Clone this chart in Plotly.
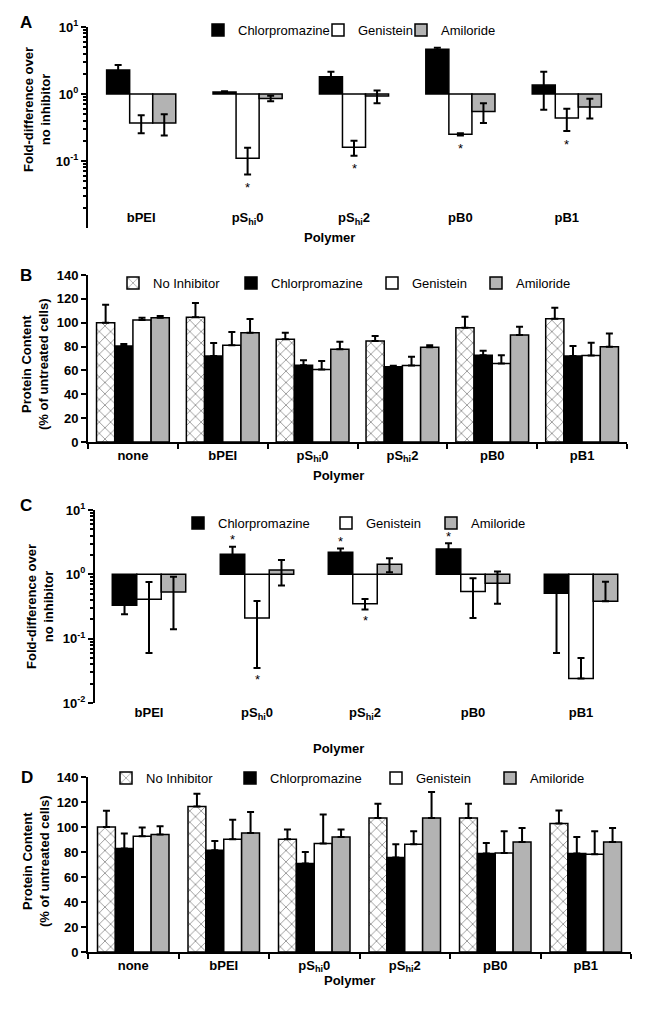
import math
import plotly.graph_objects as go

W, H = 654, 1010
FONT = "Liberation Sans, Arial, Helvetica, sans-serif"

# ---------------- data ----------------
log_cats = ["bPEI", "pS<sub>hi</sub>0", "pS<sub>hi</sub>2", "pB0", "pB1"]
lin_cats = ["none", "bPEI", "pS<sub>hi</sub>0", "pS<sub>hi</sub>2", "pB0", "pB1"]

a_tickvals = [0.1, 1, 10]
a_ticktext = ["10<sup>-1</sup>", "10<sup>0</sup>", "10<sup>1</sup>"]
c_tickvals = [0.01, 0.1, 1, 10]
c_ticktext = ["10<sup>-2</sup>", "10<sup>-1</sup>", "10<sup>0</sup>", "10<sup>1</sup>"]
log_minor_vals = [k * 10.0 ** e for e in (-2, -1, 0) for k in range(2, 10)]
lin_tickvals = [0, 20, 40, 60, 80, 100, 120, 140]

# Panel A (fold-difference, log)
a_chl = [2.28, 1.07, 1.81, 4.64, 1.36]
a_chl_err = [0.43, 0.03, 0.34, 0.25, 0.78]
a_gen = [0.37, 0.11, 0.16, 0.25, 0.44]
a_gen_err = [0.11, 0.047, 0.04, 0.01, 0.16]
a_ami = [0.37, 0.86, 0.93, 0.55, 0.64]
a_ami_err = [0.13, 0.08, 0.20, 0.18, 0.21]
a_sig_gen = [False, True, True, True, True]

# Panel B (protein content, %)
b_noi = [100.0, 104.5, 86.2, 84.6, 95.8, 103.3]
b_noi_err = [15.0, 12.0, 5.3, 4.2, 9.2, 9.2]
b_chl = [80.4, 72.0, 64.4, 63.0, 72.8, 72.0]
b_chl_err = [1.7, 11.0, 4.2, 1.0, 3.6, 8.4]
b_gen = [102.2, 81.2, 60.8, 64.1, 65.8, 72.5]
b_gen_err = [2.0, 11.0, 7.0, 7.3, 7.0, 10.7]
b_ami = [104.2, 91.6, 77.8, 79.5, 89.6, 79.8]
b_ami_err = [1.5, 11.5, 6.2, 1.7, 7.0, 11.2]

# Panel C (fold-difference, log)
c_chl = [0.33, 2.05, 2.20, 2.48, 0.51]
c_chl_err = [0.09, 0.64, 0.33, 0.55, 0.45]
c_gen = [0.41, 0.21, 0.35, 0.54, 0.024]
c_gen_err = [0.35, 0.175, 0.065, 0.33, 0.026]
c_ami = [0.53, 1.17, 1.43, 0.73, 0.38]
c_ami_err = [0.39, 0.50, 0.35, 0.38, 0.39]
c_sig_chl = [False, True, True, True, False]
c_sig_gen = [False, True, True, False, False]

# Panel D (protein content, %)
d_noi = [100.0, 116.5, 90.1, 107.2, 107.2, 102.7]
d_noi_err = [13.0, 10.1, 8.0, 11.5, 11.5, 10.6]
d_chl = [82.7, 81.3, 70.7, 75.5, 78.7, 78.7]
d_chl_err = [12.0, 7.5, 9.3, 10.7, 8.5, 13.3]
d_gen = [92.5, 90.1, 86.7, 86.1, 79.2, 78.1]
d_gen_err = [7.0, 15.7, 23.4, 10.4, 17.3, 18.4]
d_ami = [93.9, 95.2, 92.0, 107.2, 88.0, 88.0]
d_ami_err = [6.7, 16.8, 6.1, 20.8, 11.2, 11.2]

# ---------------- styling ----------------
STYLE = {
    "No Inhibitor": dict(color="white",
                         pattern=dict(shape="x", fgcolor="black", bgcolor="white",
                                      size=8, solidity=0.18)),
    "Chlorpromazine": dict(color="black"),
    "Genistein": dict(color="white"),
    "Amiloride": dict(color="#b3b3b3"),
}

fig = go.Figure()
legends = {}
legend_counter = [0]


def new_legend(x_px, y_px):
    legend_counter[0] += 1
    key = "legend" if legend_counter[0] == 1 else f"legend{legend_counter[0]}"
    legends[key] = dict(
        x=x_px / W, y=1 - y_px / H, xanchor="left", yanchor="middle",
        bgcolor="rgba(0,0,0,0)", borderwidth=0,
        font=dict(family=FONT, size=13, color="black"),
        orientation="h", itemwidth=30,
    )
    return key


def add_panel(xa, ya, cats, series, gap, log, legend_x, legend_y):
    n = len(series)
    span = 1 - gap
    w = span / n
    offsets = {}
    for k, (name, vals, errs) in enumerate(series):
        off = -span / 2 + k * w
        offsets[name] = off
        style = STYLE[name]
        marker = dict(color=style["color"], line=dict(color="black", width=1.5))
        if "pattern" in style:
            marker["pattern"] = style["pattern"]
        if log:
            yv = [v - 1 for v in vals]
            base = 1
            minus = [e if e < v else 0 for v, e in zip(vals, errs)]
        else:
            yv = list(vals)
            base = None
            minus = [0] * len(vals)
        lg = new_legend(legend_x[name], legend_y)
        fig.add_trace(go.Bar(
            x=cats, y=yv, base=base, name=name, marker=marker,
            width=w, offset=off, xaxis=xa, yaxis=ya, legend=lg,
            error_y=dict(type="data", symmetric=False, array=errs, arrayminus=minus,
                         color="black", thickness=2, width=3.5),
            hoverinfo="skip",
        ))
    return offsets, w


# domains (pixels of the 654x1010 page)
XA = [88 / W, 620 / W]; YA = [1 - 228 / H, 1 - 27 / H]
XB = [88 / W, 627 / W]; YB = [1 - 442 / H, 1 - 275 / H]
XC = [95 / W, 635 / W]; YC = [1 - 703 / H, 1 - 510 / H]
XD = [88 / W, 631 / W]; YD = [1 - 952 / H, 1 - 777 / H]

offA, wA = add_panel("x", "y", log_cats,
                     [("Chlorpromazine", a_chl, a_chl_err),
                      ("Genistein", a_gen, a_gen_err),
                      ("Amiloride", a_ami, a_ami_err)],
                     0.35, True,
                     {"Chlorpromazine": 198, "Genistein": 318, "Amiloride": 401}, 30)
add_panel("x2", "y2", lin_cats,
          [("No Inhibitor", b_noi, b_noi_err),
           ("Chlorpromazine", b_chl, b_chl_err),
           ("Genistein", b_gen, b_gen_err),
           ("Amiloride", b_ami, b_ami_err)],
          0.19, False,
          {"No Inhibitor": 113, "Chlorpromazine": 231, "Genistein": 372, "Amiloride": 476}, 283)
offC, wC = add_panel("x3", "y3", log_cats,
                     [("Chlorpromazine", c_chl, c_chl_err),
                      ("Genistein", c_gen, c_gen_err),
                      ("Amiloride", c_ami, c_ami_err)],
                     0.32, True,
                     {"Chlorpromazine": 178, "Genistein": 326, "Amiloride": 431}, 523)
add_panel("x4", "y4", lin_cats,
          [("No Inhibitor", d_noi, d_noi_err),
           ("Chlorpromazine", d_chl, d_chl_err),
           ("Genistein", d_gen, d_gen_err),
           ("Amiloride", d_ami, d_ami_err)],
          0.21, False,
          {"No Inhibitor": 106, "Chlorpromazine": 230, "Genistein": 376, "Amiloride": 490}, 778)

tickfont = dict(family=FONT, size=13, color="black", weight="bold")


def log_yaxis(dom, anchor, tv, tt):
    return dict(domain=dom, anchor=anchor, type="log", range=[-2, 1],
                tickmode="array", tickvals=tv, ticktext=tt,
                showline=True, linewidth=2, linecolor="black",
                ticks="outside", ticklen=5, tickwidth=2, tickcolor="black",
                minor=dict(ticks="outside", ticklen=3, tickwidth=1.5, tickcolor="black",
                           tickmode="array", tickvals=log_minor_vals, showgrid=False),
                showgrid=False, zeroline=False, tickfont=tickfont)


def lin_yaxis(dom, anchor):
    return dict(domain=dom, anchor=anchor, range=[0, 140], tickmode="array",
                tickvals=lin_tickvals, showline=True, linewidth=2, linecolor="black",
                ticks="outside", ticklen=5, tickwidth=2, tickcolor="black",
                showgrid=False, zeroline=False, tickfont=tickfont)


def cat_xaxis(dom, anchor, cats, boxed, **kw):
    d = dict(domain=dom, anchor=anchor, type="category", categoryarray=cats,
             range=[-0.5, len(cats) - 0.5], showgrid=False, zeroline=False,
             tickfont=tickfont)
    if boxed:
        d.update(showline=True, linewidth=2, linecolor="black", ticks="outside",
                 tickson="boundaries", ticklen=5, tickwidth=2, tickcolor="black")
    else:
        d.update(showline=False, ticks="")
    d.update(kw)
    return d


def baseline_axis(over, dom_y, n):
    pos = dom_y[0] + (dom_y[1] - dom_y[0]) * 2 / 3
    return dict(overlaying=over, anchor="free", position=pos, range=[0, n],
                tickmode="linear", tick0=0, dtick=1, ticks="outside", ticklen=4,
                tickwidth=2, tickcolor="black", showline=True, linewidth=2,
                linecolor="black", showticklabels=False, showgrid=False, zeroline=False)


layout = dict(
    width=W, height=H, margin=dict(l=0, r=0, t=0, b=0, pad=0, autoexpand=False),
    paper_bgcolor="white", plot_bgcolor="rgba(0,0,0,0)",
    barmode="overlay", showlegend=True,
    font=dict(family=FONT, color="black"),
    xaxis=cat_xaxis(XA, "y", log_cats, False, ticklabelposition="inside"),
    yaxis=log_yaxis(YA, "x", a_tickvals, a_ticktext),
    xaxis2=cat_xaxis(XB, "y2", lin_cats, True),
    yaxis2=lin_yaxis(YB, "x2"),
    xaxis3=cat_xaxis(XC, "y3", log_cats, False),
    yaxis3=log_yaxis(YC, "x3", c_tickvals, c_ticktext),
    xaxis4=cat_xaxis(XD, "y4", lin_cats, True),
    yaxis4=lin_yaxis(YD, "x4"),
    xaxis5=baseline_axis("x", YA, len(log_cats)),
    xaxis6=baseline_axis("x3", YC, len(log_cats)),
)
layout.update(legends)
fig.update_layout(**layout)

# asterisks (significance)
star = dict(family=FONT, size=13, color="black")
for i, s in enumerate(a_sig_gen):
    if s:
        fig.add_annotation(x=i + offA["Genistein"] + wA / 2, y=math.log10(a_gen[i] - a_gen_err[i]),
                           xref="x", yref="y", text="*", showarrow=False, yshift=-13,
                           xanchor="center", yanchor="middle", font=star)
for i, s in enumerate(c_sig_chl):
    if s:
        fig.add_annotation(x=i + offC["Chlorpromazine"] + wC / 2, y=math.log10(c_chl[i] + c_chl_err[i]),
                           xref="x3", yref="y3", text="*", showarrow=False, yshift=7,
                           xanchor="center", yanchor="middle", font=star)
for i, s in enumerate(c_sig_gen):
    if s:
        fig.add_annotation(x=i + offC["Genistein"] + wC / 2, y=math.log10(c_gen[i] - c_gen_err[i]),
                           xref="x3", yref="y3", text="*", showarrow=False, yshift=-11,
                           xanchor="center", yanchor="middle", font=star)

# panel letters, axis titles
bold = dict(family=FONT, size=13, color="black", weight="bold")
for letter, xp, yp in [("A", 26, 22), ("B", 26, 275), ("C", 26, 505), ("D", 27, 777)]:
    fig.add_annotation(x=xp / W, y=1 - yp / H, xref="paper", yref="paper", text=letter,
                       showarrow=False, xanchor="center", yanchor="middle",
                       font=dict(family=FONT, size=17, color="black", weight="bold"))
for xp, yp in [(329, 237), (338, 475), (338, 748), (349, 980)]:
    fig.add_annotation(x=xp / W, y=1 - yp / H, xref="paper", yref="paper", text="Polymer",
                       showarrow=False, xanchor="center", yanchor="middle", font=bold)
for txt, xp, yp in [("Fold-difference over<br>no inhibitor", 37, 110),
                    ("Protein Content<br>(% of untreated cells)", 35, 365),
                    ("Fold-difference over<br>no inhibitor", 40, 607),
                    ("Protein Content<br>(% of untreated cells)", 36, 862)]:
    fig.add_annotation(x=xp / W, y=1 - yp / H, xref="paper", yref="paper", text=txt,
                       textangle=-90, showarrow=False, xanchor="center", yanchor="middle",
                       font=bold)

fig.write_html("out.html", config={"displayModeBar": False},
               post_script="document.body.style.margin='0';document.body.style.overflow='hidden';")
